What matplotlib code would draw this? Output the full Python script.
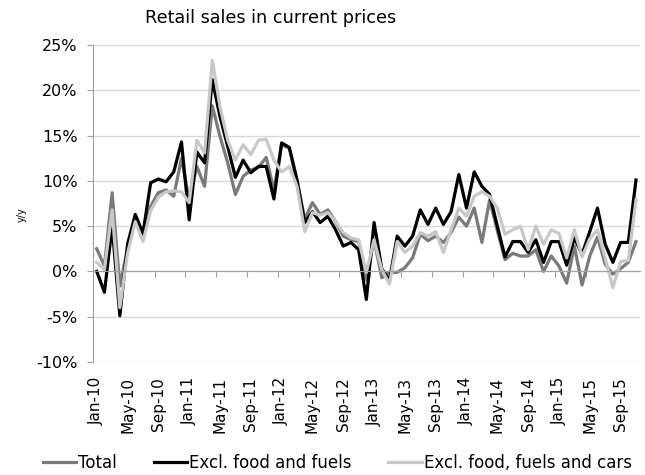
import numpy as np
import matplotlib
matplotlib.use("Agg")
import matplotlib.pyplot as plt
from matplotlib.ticker import FuncFormatter

plt.rcParams['font.family'] = 'DejaVu Sans'

# monthly y/y growth, Jan-10 .. Nov-15
months = ["Jan", "Feb", "Mar", "Apr", "May", "Jun",
          "Jul", "Aug", "Sep", "Oct", "Nov", "Dec"]
dates = [f"{m}-{y}" for y in range(10, 16) for m in months][:71]

total = [2.5, 0.6, 8.7, -1.6, 2.5, 6.0, 4.0, 7.2, 8.7, 9.0, 8.3, 12.5,
         7.9, 11.6, 9.4, 18.3, 14.9, 12.0, 8.5, 10.5, 11.2, 11.5, 12.6, 9.0,
         14.0, 13.6, 10.0, 5.8, 7.6, 6.3, 6.8, 5.5, 3.9, 3.5, 3.3, -0.9,
         3.5, -0.7, -0.1, -0.1, 0.4, 1.5, 4.1, 3.4, 3.9, 3.2, 4.3, 6.0,
         5.0, 7.0, 3.2, 7.9, 4.5, 1.3, 2.0, 1.7, 1.7, 2.4, 0.0, 1.7,
         0.6, -1.3, 2.8, -1.5, 1.7, 3.8, 0.8, -0.3, 0.3, 1.0, 3.3]

excl_food_fuels = [0.0, -2.3, 5.0, -4.9, 3.0, 6.3, 4.2, 9.8, 10.2, 9.9, 11.0, 14.3,
                   5.7, 13.2, 12.0, 21.2, 17.1, 13.8, 10.4, 12.3, 10.9, 11.6, 11.6, 8.0,
                   14.2, 13.7, 10.1, 5.4, 6.6, 5.4, 6.1, 4.6, 2.8, 3.2, 2.4, -3.1,
                   5.4, 0.3, -1.0, 3.9, 2.8, 3.9, 6.8, 5.2, 7.0, 5.2, 6.6, 10.7,
                   7.0, 11.0, 9.4, 8.5, 5.0, 1.6, 3.3, 3.3, 2.1, 3.5, 1.0, 3.3,
                   3.3, 0.7, 3.7, 1.9, 4.4, 7.0, 3.0, 1.0, 3.2, 3.2, 10.1]

excl_food_fuels_cars = [1.0, 0.2, 6.8, -4.0, 2.0, 5.5, 3.3, 6.7, 8.2, 8.8, 8.9, 8.8,
                        7.6, 14.5, 13.1, 23.3, 18.2, 14.5, 12.3, 14.0, 12.9, 14.5, 14.6, 12.3,
                        11.0, 11.6, 9.4, 4.4, 6.5, 6.2, 6.5, 5.5, 4.3, 3.7, 3.5, -0.1,
                        3.5, 0.2, -1.4, 3.3, 2.1, 2.8, 4.3, 3.9, 4.4, 2.1, 4.6, 7.0,
                        6.1, 8.3, 8.8, 8.3, 7.0, 4.1, 4.6, 5.0, 2.4, 5.0, 3.0, 4.6,
                        4.2, 1.5, 4.6, 1.6, 3.6, 4.6, 1.5, -1.8, 1.1, 1.2, 7.9]

x = np.arange(len(dates))

fig = plt.figure(figsize=(6.45, 4.75), dpi=100)
ax = fig.add_axes([0.144, 0.238, 0.848, 0.667])

ax.plot(x, total, color='#7a7a7a', lw=2.3, label='Total')
ax.plot(x, excl_food_fuels, color='#000000', lw=2.3, label='Excl. food and fuels')
ax.plot(x, excl_food_fuels_cars, color='#c8c8c8', lw=2.3, label='Excl. food, fuels and cars')

ax.set_xlim(-0.5, len(dates) - 0.5)
ax.set_ylim(-10, 25)
ax.set_yticks(np.arange(-10, 26, 5))
ax.yaxis.set_major_formatter(FuncFormatter(lambda v, p: f"{v:.0f}%"))
ax.grid(axis='y', color='#d9d9d9', lw=1)
ax.set_axisbelow(True)
ax.tick_params(axis='y', length=4, color='#a0a0a0', labelsize=11.5, pad=7)

for s in ['top', 'right']:
    ax.spines[s].set_visible(False)
ax.spines['left'].set_color('#a0a0a0')

# category axis crosses at zero, tick marks between months
ax.spines['bottom'].set_position(('data', 0))
ax.spines['bottom'].set_color('#a0a0a0')
ax.set_xticks(np.arange(-0.5, len(dates), 4))
ax.set_xticklabels([])
ax.tick_params(axis='x', length=4, color='#a0a0a0', direction='out')

# month labels sit below the plot area
sec = ax.secondary_xaxis('bottom')
sec.set_xticks(x[::4])
sec.set_xticklabels(dates[::4], rotation=90, fontsize=11)
sec.tick_params(length=0, pad=11)
sec.spines['bottom'].set_visible(False)

fig.text(0.42, 0.963, "Retail sales in current prices", ha='center', va='center',
         fontsize=12.7)
fig.text(0.034, 0.548, "y/y", rotation=90, ha='center', va='center', fontsize=7)

fig.legend(loc='center', bbox_to_anchor=(0.523, 0.025), ncol=3, frameon=False,
           fontsize=12, handlelength=2.0, handletextpad=0.12, columnspacing=2.2)

fig.savefig("out.png", dpi=100)
